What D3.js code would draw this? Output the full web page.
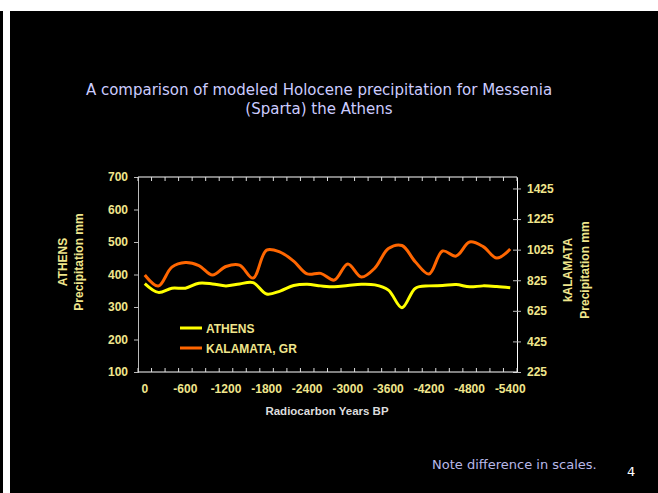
<!DOCTYPE html>
<html>
<head>
<meta charset="utf-8">
<script src="https://cdn.jsdelivr.net/npm/d3@7/dist/d3.min.js"></script>
<style>
  html, body { margin: 0; padding: 0; background: #ffffff; }
  svg { display: block; }
</style>
</head>
<body>
<svg id="chart" width="658" height="493"></svg>
<script>
// Years BP (one category every 200 years)
const years = [0, -200, -400, -600, -800, -1000, -1200, -1400, -1600, -1800,
  -2000, -2200, -2400, -2600, -2800, -3000, -3200, -3400, -3600, -3800,
  -4000, -4200, -4400, -4600, -4800, -5000, -5200, -5400];

// Modeled precipitation, mm
const athens = [372, 345, 358, 358, 373, 371, 365, 371, 375, 340,
  349, 366, 370, 365, 362, 366, 370, 368, 352, 298,
  358, 365, 366, 369, 362, 365, 363, 359];
const kalamata = [859, 787, 911, 941, 921, 859, 915, 924, 839, 1022,
  1009, 950, 866, 870, 826, 931, 846, 905, 1032, 1052,
  944, 866, 1016, 983, 1075, 1045, 970, 1029];

const leftTicks = [100, 200, 300, 400, 500, 600, 700];
const rightTicks = [225, 425, 625, 825, 1025, 1225, 1425];
const xLabelYears = [0, -600, -1200, -1800, -2400, -3000, -3600, -4200, -4800, -5400];

const svg = d3.select("#chart");

// slide background
svg.append("rect").attr("x", 10).attr("y", 11).attr("width", 648).attr("height", 482).attr("fill", "#000");
svg.append("rect").attr("x", 0).attr("y", 11).attr("width", 3).attr("height", 482).attr("fill", "#000");

const plot = { left: 138, right: 517, top: 177, bottom: 372 };

const x = d3.scaleBand().domain(years).range([plot.left, plot.right]).padding(0);
const yL = d3.scaleLinear().domain([100, 700]).range([plot.bottom, plot.top]);
const yR = d3.scaleLinear().domain([225, 1500]).range([plot.bottom, plot.top]);

const tickColor = "#f0e68c";
const font = "Liberation Sans, Arial, sans-serif";
const slideFont = "DejaVu Sans, Verdana, sans-serif";

// title
const title = svg.append("text").attr("text-anchor", "middle")
  .attr("font-family", slideFont).attr("font-size", 15)
  .attr("fill", "#ccccff");
title.append("tspan").attr("x", 319).attr("y", 95).text("A comparison of modeled Holocene precipitation for Messenia");
title.append("tspan").attr("x", 319).attr("y", 114).text("(Sparta) the Athens");

// left axis
const gL = svg.append("g").attr("transform", `translate(${plot.left},0)`)
  .call(d3.axisLeft(yL).tickValues(leftTicks).tickSize(4).tickPadding(6));
gL.select(".domain").attr("stroke", "#bbbbbb");
gL.selectAll(".tick line").attr("stroke", "#bbbbbb");
gL.selectAll("text").attr("fill", tickColor).attr("font-family", font)
  .attr("font-weight", "bold").attr("font-size", 12);

// right axis, ticks crossing the line
const gR = svg.append("g").attr("transform", `translate(${plot.right},0)`)
  .call(d3.axisRight(yR).tickValues(rightTicks).tickFormat(d3.format("d"))
    .tickSize(4).tickPadding(6).tickSizeOuter(0));
gR.select(".domain").attr("stroke", "#ffffff");
gR.selectAll(".tick line").attr("x1", -4).attr("stroke", "#bbbbbb");
gR.selectAll("text").attr("fill", tickColor).attr("font-family", font)
  .attr("font-weight", "bold").attr("font-size", 12);

// category tick marks between categories, bottom and top edges
const boundaries = years.map(d => x(d)).concat([plot.right]);
svg.append("line").attr("x1", plot.left).attr("x2", plot.right)
  .attr("y1", plot.bottom).attr("y2", plot.bottom).attr("stroke", "#ffffff");
svg.append("line").attr("x1", plot.left).attr("x2", plot.right)
  .attr("y1", plot.top).attr("y2", plot.top).attr("stroke", "#ffffff");
svg.append("g").selectAll("line").data(boundaries).join("line")
  .attr("x1", d => d).attr("x2", d => d)
  .attr("y1", plot.bottom - 4).attr("y2", plot.bottom)
  .attr("stroke", "#dddddd");
svg.append("g").selectAll("line").data(boundaries).join("line")
  .attr("x1", d => d).attr("x2", d => d)
  .attr("y1", plot.top).attr("y2", plot.top + 4)
  .attr("stroke", "#dddddd");

// x tick labels
svg.append("g").selectAll("text").data(xLabelYears).join("text")
  .attr("x", d => x(d) + x.bandwidth() / 2).attr("y", 393)
  .attr("text-anchor", "middle").attr("fill", tickColor)
  .attr("font-family", font).attr("font-weight", "bold").attr("font-size", 12)
  .text(d => d);

// axis titles
svg.append("text").attr("x", 327).attr("y", 415).attr("text-anchor", "middle")
  .attr("fill", "#dddddd").attr("font-family", font).attr("font-weight", "bold")
  .attr("font-size", 11.5).text("Radiocarbon Years BP");

const sideTitles = [
  { x: 67, y: 262, text: "ATHENS" },
  { x: 83, y: 262, text: "Precipitation mm" },
  { x: 572, y: 270, text: "kALAMATA" },
  { x: 589, y: 270, text: "Precipitation mm" }
];
svg.append("g").selectAll("text").data(sideTitles).join("text")
  .attr("transform", d => `translate(${d.x},${d.y}) rotate(-90)`)
  .attr("text-anchor", "middle").attr("fill", tickColor).attr("font-family", font)
  .attr("font-weight", "bold").attr("font-size", 12).text(d => d.text);

// series
const cx = (d, i) => x(years[i]) + x.bandwidth() / 2;
const lineL = d3.line().x(cx).y(d => yL(d)).curve(d3.curveCatmullRom.alpha(0.5));
const lineR = d3.line().x(cx).y(d => yR(d)).curve(d3.curveCatmullRom.alpha(0.5));

svg.append("path").datum(kalamata).attr("d", lineR)
  .attr("fill", "none").attr("stroke", "#ff6600").attr("stroke-width", 3);
svg.append("path").datum(athens).attr("d", lineL)
  .attr("fill", "none").attr("stroke", "#ffff00").attr("stroke-width", 3);

// legend
const legend = [
  { name: "ATHENS", color: "#ffff00", y: 328 },
  { name: "KALAMATA, GR", color: "#ff6600", y: 348 }
];
const lg = svg.append("g").selectAll("g").data(legend).join("g");
lg.append("line").attr("x1", 180).attr("x2", 202).attr("y1", d => d.y).attr("y2", d => d.y)
  .attr("stroke", d => d.color).attr("stroke-width", 3);
lg.append("text").attr("x", 206).attr("y", d => d.y + 4.5).attr("fill", tickColor)
  .attr("font-family", font).attr("font-weight", "bold").attr("font-size", 12)
  .text(d => d.name);

// footer
svg.append("text").attr("x", 432).attr("y", 469).attr("fill", "#b8b8e8")
  .attr("font-family", slideFont).attr("font-size", 13)
  .text("Note difference in scales.");
svg.append("text").attr("x", 627).attr("y", 476).attr("fill", "#ffffff")
  .attr("font-family", slideFont).attr("font-size", 13)
  .text("4");
</script>
</body>
</html>
